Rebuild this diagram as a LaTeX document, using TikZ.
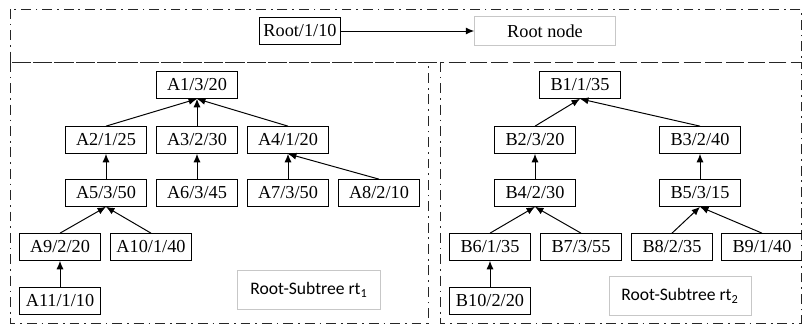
\documentclass[tikz,border=0pt]{standalone}
\usepackage{fontspec}
\setmainfont{Liberation Serif}
\newfontfamily\carlito{Carlito}
\usetikzlibrary{arrows.meta}

\begin{document}
\begin{tikzpicture}[x=0.025cm,y=-0.025cm,
    nd/.style={draw,line width=0.7pt,minimum width=58pt,minimum height=19pt,inner sep=1pt,font=\fontsize{13}{15}\selectfont},
    lbl/.style={draw=black!22,line width=0.7pt,inner sep=1pt},
    ar/.style={-{Latex[length=6pt,width=5pt]},line width=0.7pt},
    frm/.style={draw=black!85,line width=0.6pt,dash pattern=on 7pt off 3.5pt on 1.2pt off 3.5pt}]
    \useasboundingbox (0,0) rectangle (802,328);
    % dash-dot frames
    \draw[frm](10,9) rectangle (801,62);
    \draw[frm](10,62) rectangle (428,323);
    \draw[frm](440,62) rectangle (801,323);
    % root
    \node[nd](root) at (300,31){Root/1/10};
    \node[lbl,minimum width=100pt,minimum height=20.6pt,font=\fontsize{13}{15}\selectfont](rootnode) at (545,31){Root node};
    \draw[ar](root.east)--(rootnode.west);
    % subtree A
    \node[nd](a1) at (197,85){A1/3/20};
    \node[nd](a2) at (106,140){A2/1/25};
    \node[nd](a3) at (197,140){A3/2/30};
    \node[nd](a4) at (288,140){A4/1/20};
    \node[nd](a5) at (106,193){A5/3/50};
    \node[nd](a6) at (197,193){A6/3/45};
    \node[nd](a7) at (288,193){A7/3/50};
    \node[nd](a8) at (379,193){A8/2/10};
    \node[nd](a9) at (60,247){A9/2/20};
    \node[nd](a10) at (151,247){A10/1/40};
    \node[nd](a11) at (60,301){A11/1/10};
    \draw[ar](a2.north)--(a1.south);
    \draw[ar](a3.north)--(a1.south);
    \draw[ar](a4.north)--(a1.south);
    \draw[ar](a5.north)--(a2.south);
    \draw[ar](a6.north)--(a3.south);
    \draw[ar](a7.north)--(a4.south);
    \draw[ar](a8.north)--(a4.south);
    \draw[ar](a9.north)--(a5.south);
    \draw[ar](a10.north)--(a5.south);
    \draw[ar](a11.north)--(a9.south);
    \node[lbl,minimum width=101pt,minimum height=28.4pt,font=\carlito\fontsize{12.5}{15}\selectfont](rtA) at (309,290){Root-Subtree rt\textsubscript{1}};
    % subtree B
    \node[nd](b1) at (580,85){B1/1/35};
    \node[nd](b2) at (535,140){B2/3/20};
    \node[nd](b3) at (700,140){B3/2/40};
    \node[nd](b4) at (535,193){B4/2/30};
    \node[nd](b5) at (700,193){B5/3/15};
    \node[nd](b6) at (490,247){B6/1/35};
    \node[nd](b7) at (581,247){B7/3/55};
    \node[nd](b8) at (672,247){B8/2/35};
    \node[nd](b9) at (762,247){B9/1/40};
    \node[nd](b10) at (490,301){B10/2/20};
    \draw[ar](b2.north)--(b1.south);
    \draw[ar](b3.north)--(b1.south);
    \draw[ar](b4.north)--(b2.south);
    \draw[ar](b5.north)--(b3.south);
    \draw[ar](b6.north)--(b4.south);
    \draw[ar](b7.north)--(b4.south);
    \draw[ar](b8.north)--(b5.south);
    \draw[ar](b9.north)--(b5.south);
    \draw[ar](b10.north)--(b6.south);
    \node[lbl,minimum width=101pt,minimum height=28.4pt,font=\carlito\fontsize{12.5}{15}\selectfont](rtB) at (680,296){Root-Subtree rt\textsubscript{2}};
\end{tikzpicture}
\end{document}
